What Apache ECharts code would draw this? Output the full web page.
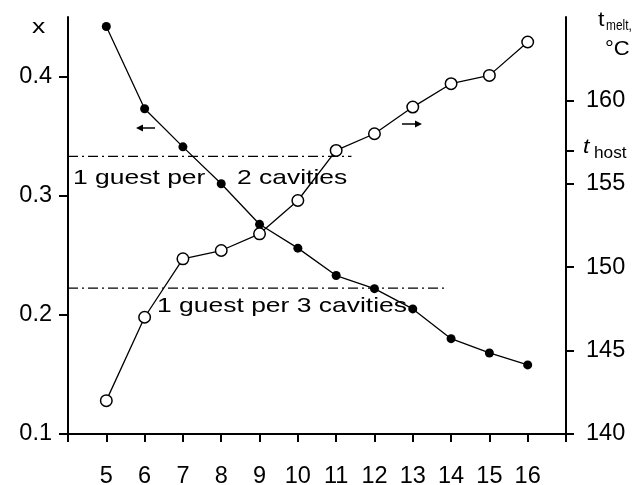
<!DOCTYPE html>
<html>
<head>
<meta charset="utf-8">
<script src="https://cdn.jsdelivr.net/npm/echarts@6/dist/echarts.min.js"></script>
<style>
  html, body { margin: 0; padding: 0; background: #fff; }
  #chart { width: 635px; height: 485px; }
</style>
</head>
<body>
<div id="chart"></div>
<script>
// ---- data ----
var nValues = [5, 6, 7, 8, 9, 10, 11, 12, 13, 14, 15, 16];
var xFraction = [0.442, 0.373, 0.341, 0.310, 0.276, 0.256, 0.233, 0.222, 0.205, 0.180, 0.168, 0.158];
var tMelt = [142.0, 147.0, 150.5, 151.0, 152.0, 154.0, 157.0, 158.0, 159.6, 161.0, 161.5, 163.5];
var leftTicks = [0.1, 0.2, 0.3, 0.4];
var rightTickLabels = [140, 145, 150, 155, 160];
var tHost = 157;
var guideTwoCavities = { x: [4, 11.4], y: 0.333 };
var guideThreeCavities = { x: [4, 13.9], y: 0.2225 };

var FONT = "'Liberation Sans', Arial, Helvetica, sans-serif";
var SX = 1.26;

function pairs(xs, ys) { return xs.map(function (v, i) { return [v, ys[i]]; }); }

var chart = echarts.init(document.getElementById('chart'), null, { renderer: 'canvas' });

var axisLine = { show: true, lineStyle: { color: '#000', width: 2 } };

function txt(x, y, s, size, extra) {
  return {
    type: 'text', x: x, y: y, scaleX: (extra && extra.sx) || SX, scaleY: 1,
    style: {
      text: s, fontSize: size, fontFamily: FONT, fill: '#000',
      textVerticalAlign: 'middle', fontStyle: (extra && extra.italic) ? 'italic' : 'normal'
    }
  };
}

var option = {
  animation: false,
  backgroundColor: '#fff',
  grid: { left: 68, right: 69, top: 17, bottom: 51, containLabel: false, outerBoundsMode: 'none' },
  xAxis: {
    type: 'value', min: 4, max: 17, interval: 1,
    axisLine: axisLine,
    axisTick: { show: true, inside: false, length: 8, lineStyle: { color: '#000', width: 2 } },
    axisLabel: {
      margin: 31, color: '#000', fontSize: 23.5, fontFamily: FONT,
      formatter: function (v) { return (v >= 5 && v <= 16) ? String(v) : ''; }
    },
    splitLine: { show: false }
  },
  yAxis: [
    {
      type: 'value', position: 'left', min: 0.1, max: 0.45,
      axisLine: axisLine,
      axisTick: { show: true, inside: false, length: 9, customValues: leftTicks, lineStyle: { color: '#000', width: 2 } },
      axisLabel: {
        margin: 16, color: '#000', fontSize: 23.5, fontFamily: FONT,
        customValues: leftTicks,
        formatter: function (v) { return Number(v).toFixed(1); }
      },
      splitLine: { show: false }
    },
    {
      type: 'value', position: 'right', min: 140, max: 165,
      axisLine: axisLine,
      axisTick: { show: true, inside: false, length: 8, customValues: rightTickLabels.concat([tHost]), lineStyle: { color: '#000', width: 2 } },
      axisLabel: {
        margin: 20, color: '#000', fontSize: 23.5, fontFamily: FONT,
        customValues: rightTickLabels
      },
      splitLine: { show: false }
    }
  ],
  series: [
    {
      type: 'line', yAxisIndex: 0,
      data: pairs(guideTwoCavities.x, [guideTwoCavities.y, guideTwoCavities.y]),
      symbol: 'none', silent: true,
      lineStyle: { color: '#000', width: 1.3, type: [10, 4, 2, 4] }
    },
    {
      type: 'line', yAxisIndex: 0,
      data: pairs(guideThreeCavities.x, [guideThreeCavities.y, guideThreeCavities.y]),
      symbol: 'none', silent: true,
      lineStyle: { color: '#000', width: 1.3, type: [10, 4, 2, 4] }
    },
    {
      name: 'x', type: 'line', yAxisIndex: 0,
      data: pairs(nValues, xFraction),
      symbol: 'circle', symbolSize: 9,
      itemStyle: { color: '#000' },
      lineStyle: { color: '#000', width: 1.3 },
      z: 3
    },
    {
      name: 'tmelt', type: 'line', yAxisIndex: 1,
      data: pairs(nValues, tMelt),
      symbol: 'circle', symbolSize: 11.5,
      itemStyle: { color: '#fff', borderColor: '#000', borderWidth: 1.5 },
      lineStyle: { color: '#000', width: 1.3 },
      z: 4
    }
  ],
  graphic: [
    // axis names
    txt(32, 27, 'x', 21),
    txt(598, 20, 't', 21, { sx: 1.1 }),
    txt(606, 26, 'melt,', 14, { sx: 0.85 }),
    txt(605, 49, '°C', 21, { sx: 1.05 }),
    txt(583, 147, 't', 21, { sx: 1.1, italic: true }),
    txt(594, 154, 'host', 16, { sx: 1.08 }),
    // annotations
    txt(73, 178, '1 guest per', 21),
    txt(237, 178, '2 cavities', 21),
    txt(157, 306, '1 guest per 3 cavities', 21),
    // arrows
    { type: 'line', shape: { x1: 155, y1: 128, x2: 140, y2: 128 }, style: { stroke: '#000', lineWidth: 1.5 } },
    { type: 'polygon', shape: { points: [[136, 128], [143, 124.5], [143, 131.5]] }, style: { fill: '#000' } },
    { type: 'line', shape: { x1: 402, y1: 124, x2: 417, y2: 124 }, style: { stroke: '#000', lineWidth: 1.5 } },
    { type: 'polygon', shape: { points: [[422, 124], [415, 120.5], [415, 127.5]] }, style: { fill: '#000' } }
  ]
};

chart.setOption(option);
</script>
</body>
</html>
